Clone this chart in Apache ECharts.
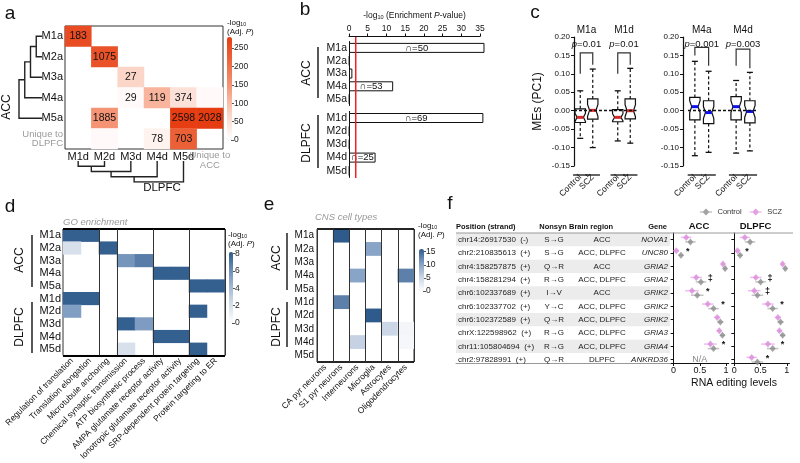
<!DOCTYPE html>
<html><head><meta charset="utf-8">
<script src="https://cdn.jsdelivr.net/npm/echarts@6.0.0/dist/echarts.min.js"></script>
<style>html,body{margin:0;padding:0;background:#fff;}#chart{width:800px;height:463px;}</style>
</head><body><div id="chart"></div>
<script>
// ===== Panel a: module overlap =====
const aRows = ['M1a','M2a','M3a','M4a','M5a','Unique to\nDLPFC'];
const aCols = ['M1d','M2d','M3d','M4d','M5d','Unique to\nACC'];
const aCellCol = [0,1,2,2,3,4,5,1,4,5,1,3,4];
const aCellRow = [0,1,2,3,3,3,3,4,4,4,5,5,5];
const aCellLogP = [255,245,70,8,110,50,8,150,278,280,8,20,225];
const aCellOverlap = [183,1075,27,29,119,374,null,1885,2598,2028,null,78,703];
const aColorTicks = [0,50,100,150,200,250];
const accLinkage = [[0,1,1],[5,2,2],[6,3,3],[7,4,4]];
const dlpfcLinkage = [[0,1,1],[5,2,2],[6,3,3],[7,4,4]];

// ===== Panel b: enrichment bars =====
const bAccRows = ['M1a','M2a','M3a','M4a','M5a'];
const bAccVals = [36.2,0.15,0.9,11.8,0.15];
const bAccN = [50,null,null,53,null];
const bDlRows = ['M1d','M2d','M3d','M4d','M5d'];
const bDlVals = [35.9,0.15,0.15,7.1,0.15];
const bDlN = [69,null,null,25,null];
const bThreshold = 1.8;

// ===== Panel c: module eigengenes =====
const cCats = ['Control','SCZ','','Control','SCZ'];
// [slot, min, q1, median, q3, max]
const cLeftBoxes = [
  [0,-0.075,-0.032,-0.018,0.005,0.054],
  [1,-0.100,-0.023,0.001,0.032,0.113],
  [3,-0.082,-0.030,-0.018,0.003,0.054],
  [4,-0.088,-0.022,0.000,0.032,0.115]];
const cRightBoxes = [
  [0,-0.122,-0.025,0.011,0.036,0.134],
  [1,-0.113,-0.035,-0.005,0.027,0.107],
  [3,-0.115,-0.025,0.011,0.038,0.082],
  [4,-0.109,-0.033,-0.002,0.027,0.104]];
// [slotA, legA, slotB, legB, top]
const cLeftBrackets = [[0,0.100,1,0.125,0.157],[3,0.100,4,0.125,0.157]];
const cRightBrackets = [[0,0.150,1,0.122,0.172],[3,0.122,4,0.115,0.167]];
const cLeftTitles = ['M1a','M1d'];
const cRightTitles = ['M4a','M4d'];
const cLeftP = ['0.01','0.01'];
const cRightP = ['0.001','0.003'];

// ===== Panel d: GO enrichment =====
const dRows = ['M1a','M2a','M3a','M4a','M5a','M1d','M2d','M3d','M4d','M5d'];
const dTerms = ['Regulation of translation','Translation elongation','Microtubule anchoring','Chemical synaptic transmission','ATP biosynthetic process','AMPA glutamate receptor activity','Ionotropic glutamate receptor activity','SRP-dependent protein targeting','Protein targeting to ER'];
const dValues = [
  [8,8,0,0,0,0,0,0,0],
  [2,0,8,0,0,0,0,0,0],
  [0,0,0,5.8,6.8,0,0,0,0],
  [0,0,0,0,0,8,8,0,0],
  [0,0,0,0,0,0,0,8,8],
  [8,8,0,0,0,0,0,0,0],
  [5.4,0,0,0,0,0,0,8,0],
  [0,0,0,8,5.5,0,0,0,0],
  [0,0,0,0,0,8,8,0,0],
  [0,0,0,2,0,0,0,8,0]];
const dSplits = [2,3,5,7];
const dColorTicks = [0,2,4,6,8];

// ===== Panel e: CNS cell types =====
const eTypes = ['CA pyr neurons','S1 pyr neurons','Interneurons','Microglia','Astrocytes','Oligodendrocytes'];
const eValues = [
  [0,16,0,0,0,0],
  [0,0,0,10,0,0],
  [0,0,0,0,0,0],
  [0,0,10,0,0,13],
  [0,0,0,0,0,0],
  [0,13,0,0,0,0],
  [0,0,0,16,0,0],
  [0,0,0,0,5,1.2],
  [0,0,5.5,0,0,1],
  [0,0,0,0,0,0]];
const eColorTicks = [0,5,10,15];

// ===== Panel f: RNA editing =====
const fPositions = ['chr14:26917530','chr2:210835613','chr4:158257875','chr4:158281294','chr6:102337689','chr6:102337702','chr6:102372589','chrX:122598962','chr11:105804694','chr2:97828991'];
const fStrands = ['(-)','(+)','(+)','(+)','(+)','(+)','(+)','(+)','(+)','(+)'];
const fNonsyn = ['S\u2192G','S\u2192G','Q\u2192R','R\u2192G','I\u2192V','Y\u2192C','Q\u2192R','R\u2192G','R\u2192G','Q\u2192R'];
const fRegions = ['ACC','ACC, DLPFC','ACC','ACC, DLPFC','ACC','ACC, DLPFC','ACC, DLPFC','ACC, DLPFC','ACC, DLPFC','DLPFC'];
const fGenes = ['NOVA1','UNC80','GRIA2','GRIA2','GRIK2','GRIK2','GRIK2','GRIA3','GRIA4','ANKRD36'];
const fAccCtrl = [0.32,0.14,0.98,0.52,0.45,0.76,0.89,0.93,0.76,null];
const fAccScz  = [0.24,0.05,0.94,0.43,0.35,0.65,0.83,0.87,0.70,null];
const fDlCtrl  = [0.30,0.11,0.97,0.50,0.44,0.73,0.88,0.92,0.73,0.44];
const fDlScz   = [0.20,0.06,0.92,0.41,0.38,0.64,0.83,0.86,0.64,0.33];
const fAccCtrlErr = [0.10,0.05,0.03,0.10,0.12,0.10,0.06,0.05,0.11,null];
const fAccSczErr  = [0.10,0.05,0.03,0.11,0.13,0.11,0.06,0.05,0.12,null];
const fDlCtrlErr  = [0.10,0.05,0.03,0.10,0.11,0.10,0.06,0.05,0.11,0.11];
const fDlSczErr   = [0.10,0.05,0.03,0.11,0.12,0.11,0.06,0.05,0.13,0.10];
const fAccSig = ['','*','','\u2021','*','*','','','*',''];
const fDlSig  = ['','*','','\u2021','\u2021','*','','','*','*'];
const fTicks = [0,0.5,1];
const fRowTicks = [1,2,3,4,5,6,7,8,9,10];

// ================= build =================
const FONT = '"Liberation Sans", Arial, Helvetica, sans-serif';
const INK = '#111';
const chart = echarts.init(document.getElementById('chart'));

function linkSegs(linkage, n) {
  const pos = [], ht = [];
  for (let i = 0; i < n; i++) { pos[i] = i; ht[i] = 0; }
  const segs = [];
  linkage.forEach(([a, b, h], k) => {
    segs.push([[pos[a], ht[a]], [pos[a], h], [pos[b], h], [pos[b], ht[b]]]);
    pos[n + k] = (pos[a] + pos[b]) / 2; ht[n + k] = h;
  });
  return segs;
}
const uniqueFmt = v => v.indexOf('Unique') === 0 ? v.split('\n').map(s => '{g|' + s + '}').join('\n') : v;
const gRich = {g: {color: '#9a9a9a', fontSize: 9.5, lineHeight: 9.5, fontFamily: FONT}};

const aHeat = aCellCol.map((c, i) => [c, aCellRow[i], aCellLogP[i], aCellOverlap[i]]);
function matrixToHeat(m) { const out = []; m.forEach((row, r) => row.forEach((v, c) => { if (v > 0) out.push([c, r, v]); })); return out; }

function boxRender(medColor) {
  return function (params, api) {
    const slot = api.value(0);
    const yc = v => api.coord([slot, v])[1];
    const x = api.coord([slot, 0])[0];
    const yLo = yc(api.value(1)), yQ1 = yc(api.value(2)), yMed = yc(api.value(3)), yQ3 = yc(api.value(4)), yHi = yc(api.value(5));
    const hw = 5.2, nd = 2, nh = Math.min((yQ1 - yQ3) * 0.3, 6);
    const cs = params.coordSys;
    const base = cs.y + cs.height + 9;
    const dash = {stroke: INK, lineWidth: 1.2, lineDash: [3, 2.4]};
    const solid = {stroke: INK, lineWidth: 1.3};
    return {type: 'group', children: [
      {type: 'line', shape: {x1: x, y1: yQ3, x2: x, y2: yHi}, style: dash},
      {type: 'line', shape: {x1: x, y1: yQ1, x2: x, y2: yLo}, style: dash},
      {type: 'line', shape: {x1: x - 3, y1: yHi, x2: x + 3, y2: yHi}, style: solid},
      {type: 'line', shape: {x1: x - 3, y1: yLo, x2: x + 3, y2: yLo}, style: solid},
      {type: 'polygon', shape: {points: [[x - hw, yQ3], [x + hw, yQ3], [x + hw, yMed - nh], [x + hw - nd, yMed], [x + hw, yMed + nh], [x + hw, yQ1], [x - hw, yQ1], [x - hw, yMed + nh], [x - hw + nd, yMed], [x - hw, yMed - nh]]}, style: {fill: '#fff', stroke: INK, lineWidth: 1.2}},
      {type: 'rect', shape: {x: x - hw + nd, y: yMed - 1.5, width: 2 * (hw - nd), height: 3}, style: {fill: medColor}},
      {type: 'line', shape: {x1: x - 7.2, y1: base, x2: x + 7.2, y2: base}, style: solid}
    ]};
  };
}
function bracketRender(titles, pvals) {
  return function (params, api) {
    const i = params.dataIndex;
    const x1 = api.coord([api.value(0), 0])[0], x2 = api.coord([api.value(2), 0])[0];
    const y1 = api.coord([0, api.value(1)])[1], y2 = api.coord([0, api.value(3)])[1], yt = api.coord([0, api.value(4)])[1];
    const cs = params.coordSys;
    const xm = (x1 + x2) / 2;
    return {type: 'group', children: [
      {type: 'polyline', shape: {points: [[x1, y1], [x1, yt], [x2, yt], [x2, y2]]}, style: {stroke: '#333', lineWidth: 1.2, fill: null}},
      {type: 'text', style: {text: '{i|p}{n|=' + pvals[i] + '}', x: xm, y: cs.y + 7.5, align: 'center', verticalAlign: 'middle',
        rich: {i: {fontStyle: 'italic', fontSize: 9.5, fontFamily: FONT, fill: INK}, n: {fontSize: 9.5, fontFamily: FONT, fill: INK}}}},
      {type: 'text', style: {text: titles[i], x: xm, y: cs.y - 6.5, align: 'center', verticalAlign: 'middle', fontSize: 10, fontFamily: FONT, fill: INK}}
    ]};
  };
}
function tableRender(params, api) {
  const r = api.value(1) - 1;
  const cs = params.coordSys;
  const y = api.coord([0, r + 1])[1];
  const pitch = api.size([0, 1])[1];
  const ch = [];
  if (r % 2 === 0) ch.push({type: 'rect', shape: {x: cs.x, y: y - pitch / 2, width: cs.width, height: pitch}, style: {fill: '#ececec'}});
  const t = (text, x, align, italic) => ({type: 'text', style: {text, x, y, align, verticalAlign: 'middle', fontSize: 8, fontFamily: FONT, fontStyle: italic ? 'italic' : 'normal', fill: '#222'}});
  ch.push(t(fPositions[r] + '  ' + fStrands[r], cs.x + 2, 'left'));
  ch.push(t(fNonsyn[r], cs.x + 98, 'center'));
  ch.push(t(fRegions[r], cs.x + 146, 'center'));
  ch.push(t(fGenes[r], cs.x + 212, 'right', true));
  return {type: 'group', children: ch};
}
function overlayRender(ctrl, scz, ctrlErr, sczErr, sig) {
  return function (params, api) {
    const r = api.value(1) - 1;
    const row = r + 1;
    const ch = [];
    if (ctrl[r] == null) {
      const p = api.coord([0.5, row]);
      ch.push({type: 'text', style: {text: 'N/A', x: p[0], y: p[1], align: 'center', verticalAlign: 'middle', fontSize: 9, fontFamily: FONT, fill: '#888'}});
      return {type: 'group', children: ch};
    }
    const eb = (v, e, yy, color) => {
      const a = api.coord([v - e, yy]), b = api.coord([v + e, yy]);
      return {type: 'line', shape: {x1: a[0], y1: a[1], x2: b[0], y2: b[1]}, style: {stroke: color, lineWidth: 1.5}};
    };
    ch.push(eb(scz[r], sczErr[r], row - 0.17, '#efbcef'));
    ch.push(eb(ctrl[r], ctrlErr[r], row + 0.17, '#c4c4c4'));
    if (sig[r]) {
      const sx = Math.max(ctrl[r] + ctrlErr[r], scz[r] + sczErr[r]) + 0.08;
      const p = api.coord([sx, row - 0.12]);
      ch.push({type: 'text', style: {text: sig[r], x: p[0], y: p[1], align: 'center', verticalAlign: 'middle', fontSize: 9, fontWeight: 'bold', fontFamily: FONT, fill: INK}});
    }
    return {type: 'group', children: ch};
  };
}

const hidX = (gi, o) => Object.assign({type: 'value', gridIndex: gi, show: false}, o || {});
const hidY = hidX;
const catLabel = (o) => Object.assign({interval: 0, color: INK, fontFamily: FONT}, o);

const rowsY = (gi) => ({type: 'value', gridIndex: gi, min: 0.5, max: 10.25, inverse: true,
  axisLine: {show: true, lineStyle: {color: INK, width: 1}},
  axisTick: {show: true, length: 3, customValues: fRowTicks, lineStyle: {color: INK}},
  axisLabel: {show: false}, splitLine: {show: false}});
const fX = (gi) => ({type: 'value', gridIndex: gi, min: -0.05, max: 1.05,
  axisLine: {show: true, lineStyle: {color: INK, width: 1}},
  axisTick: {show: true, length: 3, customValues: fTicks, lineStyle: {color: INK}},
  axisLabel: {customValues: fTicks, fontSize: 9, color: INK, margin: 3, fontFamily: FONT, formatter: v => String(v)},
  splitLine: {show: false}});
const cY = (gi, extra) => Object.assign({type: 'value', gridIndex: gi, min: -0.15, max: 0.2, interval: 0.05,
  axisLine: {show: true, lineStyle: {color: INK, width: 1.2}},
  axisTick: {show: true, length: 3, lineStyle: {color: INK}},
  axisLabel: {fontSize: 8, color: INK, margin: 4, fontFamily: FONT, formatter: v => v.toFixed(2)},
  splitLine: {show: false}}, extra || {});
const cX = (gi) => ({type: 'category', gridIndex: gi, data: cCats, axisLine: {show: false}, axisTick: {show: false},
  axisLabel: catLabel({rotate: 45, fontSize: 8.5, margin: 10})});
const cbarY = (gi, min, max, ticks) => ({type: 'value', gridIndex: gi, position: 'right', min, max,
  axisLine: {show: false}, axisTick: {show: true, length: 3, customValues: ticks, lineStyle: {color: '#555'}},
  axisLabel: {customValues: ticks, fontSize: 8.5, margin: 2, color: '#222', fontFamily: FONT}, splitLine: {show: false}});
const heatBorder = {show: true, borderColor: '#333', borderWidth: 1, backgroundColor: 'rgba(0,0,0,0)'};

const logRich = (size) => ({
  n: {fontSize: size, fontFamily: FONT, color: INK, fill: INK},
  s: {fontSize: size * 0.65, fontFamily: FONT, color: INK, fill: INK, padding: [size * 0.45, 0, 0, 0]},
  i: {fontSize: size, fontStyle: 'italic', fontFamily: FONT, color: INK, fill: INK}});
const T = (text, x, y, o) => { o = o || {}; const st = {text, x: 0, y: 0, align: o.align || 'center', verticalAlign: 'middle', fontSize: o.size || 11, fontFamily: FONT, fill: o.color || INK, fontWeight: o.weight || 'normal', fontStyle: o.style || 'normal', lineHeight: o.lh}; if (o.rich) st.rich = o.rich; return {type: 'text', x, y, rotation: o.rot || 0, silent: true, z: 50, style: st}; };
const L = (x1, y1, x2, y2, o) => { o = o || {}; return {type: 'line', silent: true, z: 50, shape: {x1, y1, x2, y2}, style: {stroke: o.color || INK, lineWidth: o.w || 1.4}}; };
const R90 = Math.PI / 2;
const LEGEND_ICON = 'path://M0,4.5H3L6,1.5L9,4.5H12V5.5H9L6,8.5L3,5.5H0Z';
const redScale = ['#ffffff', '#fbd5c8', '#f59b7c', '#ee6a42', '#e63c12'];
const blueScale = ['#ffffff', '#c8d4e4', '#7f9dc2', '#2e5b8c'];

const accSegs = linkSegs(accLinkage, 5);
const dlSegs = linkSegs(dlpfcLinkage, 5);

const option = {
  animation: false,
  textStyle: {fontFamily: FONT},
  grid: [
    Object.assign({left: 65, top: 26, width: 158, height: 123}, heatBorder), // 0 a heat
    {left: 19, top: 26, width: 23, height: 123},            // 1 a dendro left
    {left: 65, top: 161, width: 158, height: 21},           // 2 a dendro bottom
    {left: 231, top: 37, width: 1, height: 103},            // 3 a colorbar axis
    {left: 349, top: 41.5, width: 131, height: 64},         // 4 b ACC
    {left: 349, top: 111.4, width: 131, height: 66},        // 5 b DLPFC
    {left: 349, top: 37, width: 131, height: 141},          // 6 b red line
    {left: 574, top: 37, width: 62.5, height: 129},         // 7 c left
    {left: 688, top: 37, width: 68.75, height: 129},        // 8 c right
    Object.assign({left: 63, top: 229, width: 162, height: 133}, heatBorder), // 9 d
    {left: 232, top: 252, width: 1, height: 71},            // 10 d colorbar
    Object.assign({left: 317, top: 229, width: 97, height: 133}, heatBorder), // 11 e
    {left: 423, top: 249, width: 1, height: 42},            // 12 e colorbar
    {left: 456, top: 233, width: 214, height: 130},         // 13 f table
    {left: 671, top: 233, width: 57.75, height: 130},       // 14 f ACC
    {left: 731.7, top: 233, width: 57.75, height: 130}      // 15 f DLPFC
  ],
  xAxis: [
    {type: 'category', gridIndex: 0, data: aCols, axisLine: {show: false}, axisTick: {show: false}, splitLine: {show: false},
      axisLabel: catLabel({fontSize: 11, margin: 2, formatter: uniqueFmt, rich: gRich})},
    hidX(1, {min: 0, max: 4, inverse: true}),
    hidX(2, {min: -0.5, max: 5.5}),
    hidX(3, {min: 0, max: 1}),
    {type: 'value', gridIndex: 4, min: 0, max: 35, interval: 5, position: 'top', offset: 5,
      axisLine: {show: true, lineStyle: {color: INK, width: 1}}, axisTick: {show: true, length: 3, lineStyle: {color: INK}},
      axisLabel: {fontSize: 8.5, margin: 3, color: INK, fontFamily: FONT}, splitLine: {show: false},
      name: '{n|-log}{s|10}{n| (Enrichment }{i|P}{n|-value)}', nameLocation: 'middle', nameGap: 16,
      nameTextStyle: {rich: logRich(8.5)}},
    hidX(5, {min: 0, max: 35}),
    hidX(6, {min: 0, max: 35}),
    cX(7), cX(8),
    {type: 'category', gridIndex: 9, data: dTerms, z: 5, axisLine: {show: false}, axisTick: {show: false},
      axisLabel: catLabel({rotate: 45, fontSize: 8.5, margin: 4}),
      splitLine: {show: true, interval: (i) => dSplits.indexOf(i) >= 0, lineStyle: {color: '#333', width: 1}}},
    hidX(10, {min: 0, max: 1}),
    {type: 'category', gridIndex: 11, data: eTypes, z: 5, axisLine: {show: false}, axisTick: {show: false},
      axisLabel: catLabel({rotate: 45, fontSize: 8.5, margin: 4}),
      splitLine: {show: true, interval: 0, lineStyle: {color: '#333', width: 1}}},
    hidX(12, {min: 0, max: 1}),
    {type: 'value', gridIndex: 13, min: 0, max: 1, axisLine: {show: true, lineStyle: {color: '#9a9a9a', width: 1}},
      axisTick: {show: false}, axisLabel: {show: false}, splitLine: {show: false}},
    fX(14), fX(15)
  ],
  yAxis: [
    {type: 'category', gridIndex: 0, data: aRows, inverse: true, axisLine: {show: false}, axisTick: {show: false}, splitLine: {show: false},
      axisLabel: catLabel({fontSize: 11, margin: 2, formatter: uniqueFmt, rich: gRich})},
    hidY(1, {min: -0.5, max: 5.5, inverse: true}),
    hidY(2, {min: 0, max: 4, inverse: true}),
    cbarY(3, 0, 280, aColorTicks),
    {type: 'category', gridIndex: 4, data: bAccRows, inverse: true, axisLine: {show: true, lineStyle: {color: INK, width: 1}},
      axisTick: {show: false}, axisLabel: catLabel({fontSize: 10.5, margin: 2})},
    {type: 'category', gridIndex: 5, data: bDlRows, inverse: true, axisLine: {show: true, lineStyle: {color: INK, width: 1}},
      axisTick: {show: false}, axisLabel: catLabel({fontSize: 10.5, margin: 2})},
    hidY(6, {min: 0, max: 1}),
    cY(7, {name: 'MEs (PC1)', nameLocation: 'middle', nameGap: 30, nameRotate: 90, nameTextStyle: {fontSize: 12, color: INK, fontFamily: FONT}}),
    cY(8, {offset: 5}),
    {type: 'category', gridIndex: 9, data: dRows, inverse: true, z: 5, axisLine: {show: false}, axisTick: {show: false},
      axisLabel: catLabel({fontSize: 11, margin: 2}),
      splitLine: {show: true, interval: (i) => i === 5, lineStyle: {color: '#000', width: 1.8}}},
    cbarY(10, 0, 8.2, dColorTicks),
    {type: 'category', gridIndex: 11, data: dRows, inverse: true, z: 5, axisLine: {show: false}, axisTick: {show: false},
      axisLabel: catLabel({fontSize: 10, margin: 3}),
      splitLine: {show: true, interval: (i) => i === 5, lineStyle: {color: '#000', width: 1.5}}},
    cbarY(12, 0, 16, eColorTicks),
    hidY(13, {min: 0.5, max: 10.25, inverse: true}),
    rowsY(14), rowsY(15)
  ],
  visualMap: [
    {type: 'continuous', seriesIndex: 0, dimension: 2, min: 0, max: 280, left: 227, top: 37, itemWidth: 5, itemHeight: 103,
      calculable: false, padding: 0, inRange: {color: redScale}, hoverLink: false},
    {type: 'continuous', seriesIndex: 12, dimension: 2, min: 0, max: 8.2, left: 229, top: 252, itemWidth: 4, itemHeight: 71,
      calculable: false, padding: 0, inRange: {color: blueScale}, hoverLink: false},
    {type: 'continuous', seriesIndex: 13, dimension: 2, min: 0, max: 16, left: 419, top: 249, itemWidth: 5, itemHeight: 42,
      calculable: false, padding: 0, inRange: {color: blueScale}, hoverLink: false}
  ],
  legend: {data: [{name: 'Control', icon: LEGEND_ICON}, {name: 'SCZ', icon: LEGEND_ICON}], left: 700, top: 208,
    itemWidth: 13, itemHeight: 7, itemGap: 8, padding: 0, selectedMode: false,
    textStyle: {fontSize: 7.5, color: '#333', fontFamily: FONT}},
  series: [
    // 0
    {type: 'heatmap', xAxisIndex: 0, yAxisIndex: 0, data: aHeat, emphasis: {disabled: true},
      label: {show: true, formatter: p => p.data[3] == null ? '' : String(p.data[3]), fontSize: 10.5, color: INK, fontFamily: FONT}},
    // 1
    {type: 'lines', coordinateSystem: 'cartesian2d', xAxisIndex: 1, yAxisIndex: 1, polyline: true, silent: true,
      data: accSegs.map(s => ({coords: s.map(p => [p[1], p[0]])})), lineStyle: {color: '#222', width: 1.4, opacity: 1}},
    // 2
    {type: 'lines', coordinateSystem: 'cartesian2d', xAxisIndex: 2, yAxisIndex: 2, polyline: true, silent: true,
      data: dlSegs.map(s => ({coords: s})), lineStyle: {color: '#222', width: 1.4, opacity: 1}},
    // 3
    {type: 'bar', xAxisIndex: 4, yAxisIndex: 4, data: bAccVals, barWidth: 10, clip: false,
      itemStyle: {color: '#fff', borderColor: INK, borderWidth: 1},
      label: {show: true, position: 'inside', formatter: p => bAccN[p.dataIndex] ? '\u2229=' + bAccN[p.dataIndex] : '', fontSize: 9.5, color: INK, fontFamily: FONT}},
    // 4
    {type: 'bar', xAxisIndex: 5, yAxisIndex: 5, data: bDlVals, barWidth: 10, clip: false,
      itemStyle: {color: '#fff', borderColor: INK, borderWidth: 1},
      label: {show: true, position: 'inside', formatter: p => bDlN[p.dataIndex] ? '\u2229=' + bDlN[p.dataIndex] : '', fontSize: 9.5, color: INK, fontFamily: FONT}},
    // 5
    {type: 'line', xAxisIndex: 6, yAxisIndex: 6, data: [[bThreshold, 0], [bThreshold, 1]], symbol: 'none', silent: true, z: 10,
      lineStyle: {color: '#ee2222', width: 1.5}},
    // 6
    {type: 'line', xAxisIndex: 7, yAxisIndex: 7, data: [], silent: true, z: 1,
      markLine: {silent: true, symbol: 'none', data: [{yAxis: 0}], label: {show: false}, lineStyle: {color: INK, type: [3, 2], width: 1.3}}},
    // 7
    {type: 'custom', xAxisIndex: 7, yAxisIndex: 7, data: cLeftBoxes, renderItem: boxRender('#d42a2a'), silent: true, z: 3},
    // 8
    {type: 'custom', xAxisIndex: 7, yAxisIndex: 7, data: cLeftBrackets, renderItem: bracketRender(cLeftTitles, cLeftP), silent: true, z: 3},
    // 9
    {type: 'line', xAxisIndex: 8, yAxisIndex: 8, data: [], silent: true, z: 1,
      markLine: {silent: true, symbol: 'none', data: [{yAxis: 0}], label: {show: false}, lineStyle: {color: INK, type: [3, 2], width: 1.3}}},
    // 10
    {type: 'custom', xAxisIndex: 8, yAxisIndex: 8, data: cRightBoxes, renderItem: boxRender('#1010ee'), silent: true, z: 3},
    // 11
    {type: 'custom', xAxisIndex: 8, yAxisIndex: 8, data: cRightBrackets, renderItem: bracketRender(cRightTitles, cRightP), silent: true, z: 3},
    // 12
    {type: 'heatmap', xAxisIndex: 9, yAxisIndex: 9, data: matrixToHeat(dValues), emphasis: {disabled: true}},
    // 13
    {type: 'heatmap', xAxisIndex: 11, yAxisIndex: 11, data: matrixToHeat(eValues), emphasis: {disabled: true}},
    // 14
    {type: 'custom', xAxisIndex: 13, yAxisIndex: 13, data: fGenes.map((g, i) => [0.5, i + 1]), renderItem: tableRender, silent: true, z: 1},
    // 15
    {type: 'custom', xAxisIndex: 14, yAxisIndex: 14, data: fGenes.map((g, i) => [0.5, i + 1]), silent: true, z: 2,
      renderItem: overlayRender(fAccCtrl, fAccScz, fAccCtrlErr, fAccSczErr, fAccSig)},
    // 16
    {type: 'scatter', name: 'Control', xAxisIndex: 14, yAxisIndex: 14, symbol: 'diamond', symbolSize: [6, 7], z: 4, silent: true,
      itemStyle: {color: '#8c8c8c'}, data: fAccCtrl.map((v, i) => v == null ? null : [v, i + 1 + 0.17]).filter(Boolean)},
    // 17
    {type: 'scatter', name: 'SCZ', xAxisIndex: 14, yAxisIndex: 14, symbol: 'diamond', symbolSize: [6, 7], z: 4, silent: true,
      itemStyle: {color: '#d98bd9'}, data: fAccScz.map((v, i) => v == null ? null : [v, i + 1 - 0.17]).filter(Boolean)},
    // 18
    {type: 'custom', xAxisIndex: 15, yAxisIndex: 15, data: fGenes.map((g, i) => [0.5, i + 1]), silent: true, z: 2,
      renderItem: overlayRender(fDlCtrl, fDlScz, fDlCtrlErr, fDlSczErr, fDlSig)},
    // 19
    {type: 'scatter', name: 'Control', xAxisIndex: 15, yAxisIndex: 15, symbol: 'diamond', symbolSize: [6, 7], z: 4, silent: true,
      itemStyle: {color: '#8c8c8c'}, data: fDlCtrl.map((v, i) => [v, i + 1 + 0.17])},
    // 20
    {type: 'scatter', name: 'SCZ', xAxisIndex: 15, yAxisIndex: 15, symbol: 'diamond', symbolSize: [6, 7], z: 4, silent: true,
      itemStyle: {color: '#d98bd9'}, data: fDlScz.map((v, i) => [v, i + 1 - 0.17])}
  ],
  graphic: [
    // panel letters
    T('a', 10, 14, {size: 19}), T('b', 305, 9.5, {size: 19}), T('c', 535, 12.5, {size: 19}),
    T('d', 10, 207, {size: 19}), T('e', 269, 204.5, {size: 19}), T('f', 450, 204, {size: 19}),
    // a
    T('ACC', 7, 107, {size: 12, rot: R90}), T('DLPFC', 162, 188, {size: 11.5}),
    T('{n|-log}{s|10}\n{n|(Adj. }{i|P}{n|)}', 227, 27, {size: 8, align: 'left', lh: 9, rich: logRich(8)}),
    // b
    T('ACC', 307, 73, {size: 12, rot: R90}), L(318, 47, 318, 98),
    T('DLPFC', 307, 143, {size: 12, rot: R90}), L(318, 115, 318, 168),
    // d
    T('GO enrichment', 63, 222, {size: 9.5, align: 'left', color: '#999', style: 'italic'}),
    T('ACC', 20, 260, {size: 12, rot: R90}), L(32, 235, 32, 287),
    T('DLPFC', 20, 327, {size: 12, rot: R90}), L(32, 302, 32, 353),
    T('{n|-log}{s|10}\n{n|(Adj. }{i|P}{n|)}', 228, 239, {size: 8, align: 'left', lh: 9, rich: logRich(8)}),
    // e
    T('CNS cell types', 315, 217, {size: 9.5, align: 'left', color: '#999', style: 'italic'}),
    T('ACC', 277, 258, {size: 12, rot: R90}), L(287, 233, 287, 290),
    T('DLPFC', 277, 327, {size: 12, rot: R90}), L(287, 302, 287, 347),
    T('{n|-log}{s|10}\n{n|(Adj. }{i|P}{n|)}', 418, 230, {size: 8, align: 'left', lh: 9, rich: logRich(8)}),
    // f
    T('Position (strand)', 456, 226.5, {size: 7.5, align: 'left', weight: 'bold'}),
    T('Nonsyn', 553, 226.5, {size: 7.5, weight: 'bold'}),
    T('Brain region', 569, 226.5, {size: 7.5, align: 'left', weight: 'bold'}),
    T('Gene', 667, 226.5, {size: 7.5, align: 'right', weight: 'bold'}),
    T('ACC', 699, 226.5, {size: 9.5, weight: 'bold'}), T('DLPFC', 755.5, 226.5, {size: 9.5, weight: 'bold'}),
    L(456, 233, 793, 233, {color: '#9a9a9a', w: 1}),
    T('RNA editing levels', 734, 383, {size: 10.5})
  ]
};
chart.setOption(option);
</script>
</body></html>
